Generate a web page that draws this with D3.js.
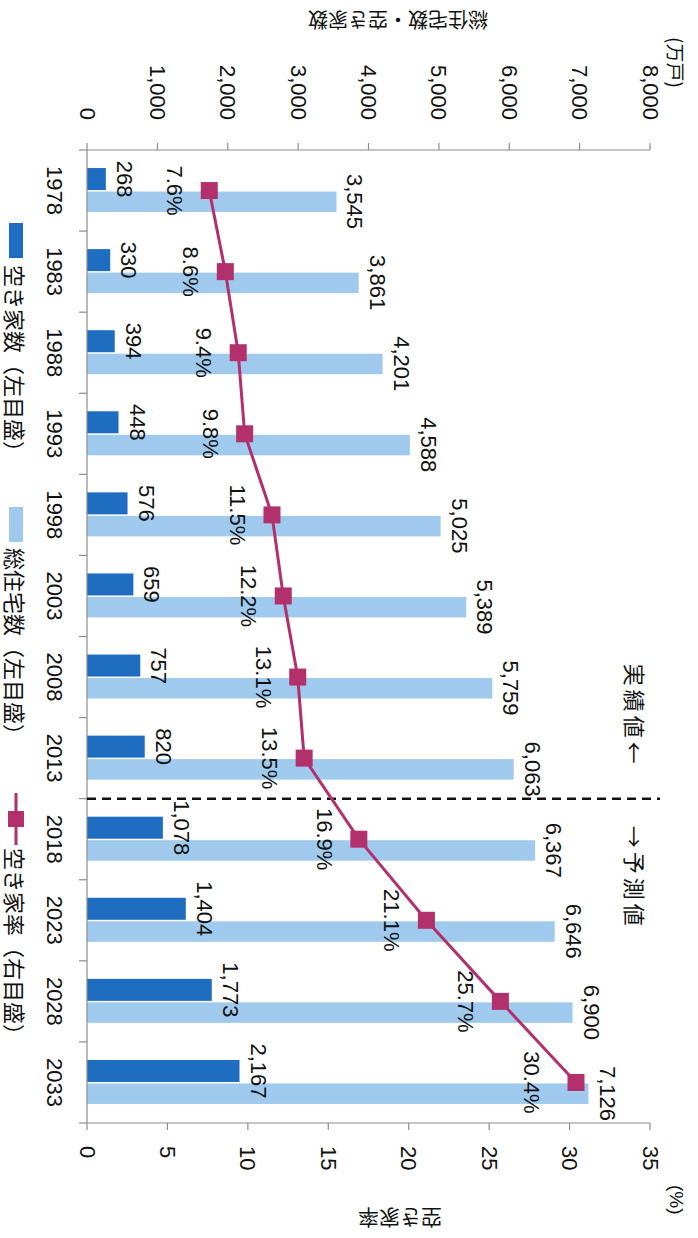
<!DOCTYPE html>
<html><head><meta charset="utf-8">
<script src="https://cdn.jsdelivr.net/npm/d3@7"></script>
<style>
html,body{margin:0;padding:0;background:#fff;}
svg{display:block;}
</style></head>
<body>
<script>
const years = ["1978","1983","1988","1993","1998","2003","2008","2013","2018","2023","2028","2033"];
const vacantHouses = [268,330,394,448,576,659,757,820,1078,1404,1773,2167];
const totalHouses = [3545,3861,4201,4588,5025,5389,5759,6063,6367,6646,6900,7126];
const vacancyRate = [7.6,8.6,9.4,9.8,11.5,12.2,13.1,13.5,16.9,21.1,25.7,30.4];
const countTicks = [0,1000,2000,3000,4000,5000,6000,7000,8000];
const rateTicks = [0,5,10,15,20,25,30,35];
const legendLabels = ["空き家数（左目盛）","総住宅数（左目盛）","空き家率（右目盛）"];
const leftTitle = "総住宅数・空き家数";
const rightTitle = "空き家率";
const leftUnit = "(万戸)";
const rightUnit = "(%)";
const actualLabel = "実績値←";
const forecastLabel = "→予測値";

const W = 698, H = 1238;
const C_DARK = "#1f6dc0", C_LIGHT = "#9fcaee", C_LINE = "#b2316d";
const LAT = "'Liberation Sans', Arial, sans-serif";
const CJK = "'Noto Sans CJK JP', 'Noto Sans CJK SC', sans-serif";

const svg = d3.select("body").append("svg").attr("width", W).attr("height", H);
svg.append("rect").attr("width", W).attr("height", H).attr("fill", "#fff");
// draw in landscape orientation, then rotate 90deg clockwise
const g = svg.append("g").attr("transform", `translate(${W},0) rotate(90)`);

const x = d3.scaleBand().domain(years).range([150, 1123]);
const yL = d3.scaleLinear().domain([0, 8000]).range([611, 48]);
const yR = d3.scaleLinear().domain([0, 35]).range([611, 48]);
const bw = x.bandwidth();
const cx = d => x(d) + bw / 2;

// bars
g.selectAll("rect.vac").data(years).join("rect").attr("class","vac")
  .attr("x", d => cx(d) - 22.5).attr("width", 22)
  .attr("y", (d,i) => yL(vacantHouses[i])).attr("height", (d,i) => yL(0) - yL(vacantHouses[i]))
  .attr("fill", C_DARK);
g.selectAll("rect.tot").data(years).join("rect").attr("class","tot")
  .attr("x", d => cx(d) + 1).attr("width", 20.5)
  .attr("y", (d,i) => yL(totalHouses[i])).attr("height", (d,i) => yL(0) - yL(totalHouses[i]))
  .attr("fill", C_LIGHT);

// axes
const axisCol = "#8c8c8c";
g.append("line").attr("x1", 150).attr("x2", 1123).attr("y1", yL(0)).attr("y2", yL(0)).attr("stroke", axisCol).attr("stroke-width", 1.2);
const bounds = years.map(d => x(d)).concat([1123]);
g.selectAll("line.ct").data(bounds).join("line").attr("class","ct")
  .attr("x1", d => d).attr("x2", d => d).attr("y1", yL(0)).attr("y2", yL(0) + 8)
  .attr("stroke", axisCol).attr("stroke-width", 1.2);
g.selectAll("text.yr").data(years).join("text").attr("class","yr")
  .attr("x", d => cx(d)).attr("y", 651).attr("text-anchor","middle")
  .attr("font-family", LAT).attr("font-size", 22).attr("fill", "#111").text(d => d);

// left axis
g.append("line").attr("x1", 150).attr("x2", 150).attr("y1", yL(0)).attr("y2", yL(8000)).attr("stroke", axisCol).attr("stroke-width", 1.2);
g.selectAll("line.lt").data(countTicks).join("line").attr("class","lt")
  .attr("x1", 143).attr("x2", 150).attr("y1", d => yL(d)).attr("y2", d => yL(d)).attr("stroke", axisCol).attr("stroke-width", 1.2);
g.selectAll("text.lt").data(countTicks).join("text").attr("class","lt")
  .attr("x", 120).attr("y", d => yL(d)).attr("text-anchor","end").attr("dominant-baseline","central")
  .attr("font-family", LAT).attr("font-size", 22).attr("fill", "#111").text(d => d3.format(",")(d));

// right axis
g.append("line").attr("x1", 1123).attr("x2", 1123).attr("y1", yR(0)).attr("y2", yR(35)).attr("stroke", axisCol).attr("stroke-width", 1.2);
g.selectAll("line.rt").data(rateTicks).join("line").attr("class","rt")
  .attr("x1", 1123).attr("x2", 1130).attr("y1", d => yR(d)).attr("y2", d => yR(d)).attr("stroke", axisCol).attr("stroke-width", 1.2);
g.selectAll("text.rt").data(rateTicks).join("text").attr("class","rt")
  .attr("x", 1146).attr("y", d => yR(d)).attr("text-anchor","start").attr("dominant-baseline","central")
  .attr("font-family", LAT).attr("font-size", 22).attr("fill", "#111").text(d => d);

// titles
g.append("text").attr("transform", "translate(20,300) rotate(90)").attr("text-anchor","middle").attr("dominant-baseline","central")
  .attr("font-family", CJK).attr("font-size", 20).attr("fill", "#111").text(leftTitle);
g.append("text").attr("transform", "translate(1219,298) rotate(90)").attr("text-anchor","middle").attr("dominant-baseline","central")
  .attr("font-family", CJK).attr("font-size", 21).attr("fill", "#111").text(rightTitle);
g.append("text").attr("x", 37).attr("y", 22).attr("dominant-baseline","central")
  .attr("font-family", CJK).attr("font-size", 19).attr("fill", "#111").text(leftUnit);
g.append("text").attr("x", 1185).attr("y", 22).attr("dominant-baseline","central")
  .attr("font-family", LAT).attr("font-size", 19).attr("fill", "#111").text(rightUnit);

// divider
const divX = x("2018");
g.append("line").attr("x1", divX).attr("x2", divX).attr("y1", yL(0)).attr("y2", 38)
  .attr("stroke", "#111").attr("stroke-width", 2.5).attr("stroke-dasharray", "9,6");
g.append("text").attr("x", divX - 31).attr("y", 62).attr("text-anchor","end").attr("dominant-baseline","central")
  .attr("font-family", CJK).attr("font-size", 22).attr("letter-spacing", 4).attr("fill", "#111").text(actualLabel);
g.append("text").attr("x", divX + 27).attr("y", 62).attr("text-anchor","start").attr("dominant-baseline","central")
  .attr("font-family", CJK).attr("font-size", 22).attr("letter-spacing", 4).attr("fill", "#111").text(forecastLabel);

// line + markers
const line = d3.line().x(d => cx(d)).y((d,i) => yR(vacancyRate[i]));
g.append("path").datum(years).attr("d", line).attr("fill","none").attr("stroke", C_LINE).attr("stroke-width", 3);
g.selectAll("rect.mk").data(years).join("rect").attr("class","mk")
  .attr("x", d => cx(d) - 8.5).attr("y", (d,i) => yR(vacancyRate[i]) - 8.5)
  .attr("width", 17).attr("height", 17).attr("fill", C_LINE);

// data labels
g.selectAll("text.vl").data(years).join("text").attr("class","vl")
  .attr("x", d => cx(d) - 11.5).attr("y", (d,i) => yL(vacantHouses[i]) - 11).attr("text-anchor","middle")
  .attr("font-family", LAT).attr("font-size", 22).attr("fill", "#111").text((d,i) => d3.format(",")(vacantHouses[i]));
g.selectAll("text.tl").data(years).join("text").attr("class","tl")
  .attr("x", d => cx(d) + 11).attr("y", (d,i) => yL(totalHouses[i]) - 11).attr("text-anchor","middle")
  .attr("font-family", LAT).attr("font-size", 22).attr("fill", "#111").text((d,i) => d3.format(",")(totalHouses[i]));
g.selectAll("text.rl").data(years).join("text").attr("class","rl")
  .attr("x", d => cx(d)).attr("y", (d,i) => yR(vacancyRate[i]) + (i === years.length - 1 ? 52 : 42)).attr("text-anchor","middle")
  .attr("font-family", LAT).attr("font-size", 22).attr("fill", "#111").text((d,i) => d3.format(".1f")(vacancyRate[i]) + "%");

// legend
const legY = 682;
const legStarts = [223, 507, 793];
g.append("rect").attr("x", legStarts[0]).attr("y", legY - 7).attr("width", 35).attr("height", 14).attr("fill", C_DARK);
g.append("rect").attr("x", legStarts[1]).attr("y", legY - 7).attr("width", 35).attr("height", 14).attr("fill", C_LIGHT);
g.append("line").attr("x1", legStarts[2]).attr("x2", legStarts[2] + 52).attr("y1", legY).attr("y2", legY).attr("stroke", C_LINE).attr("stroke-width", 3);
g.append("rect").attr("x", legStarts[2] + 26 - 8).attr("y", legY - 8).attr("width", 16).attr("height", 16).attr("fill", C_LINE);
const legTextX = [265, 548, 848];
g.selectAll("text.lg").data(legendLabels).join("text").attr("class","lg")
  .attr("x", (d,i) => legTextX[i]).attr("y", legY).attr("dominant-baseline","central")
  .attr("font-family", CJK).attr("font-size", 22).attr("fill", "#111").text(d => d);
</script>
</body></html>
